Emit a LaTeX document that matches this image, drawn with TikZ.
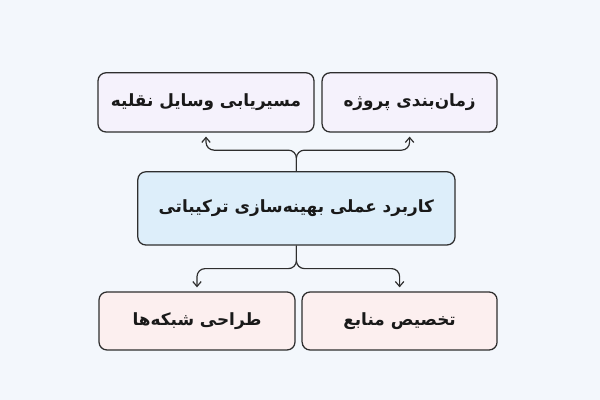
\documentclass[tikz,border=0pt]{standalone}
\usepackage{fontspec}
\newfontfamily\arabicfont[Script=Arabic]{DejaVu Sans}
\TeXXeTstate=1
\usetikzlibrary{arrows.meta,positioning}
\definecolor{bgcol}{HTML}{F3F7FC}
\definecolor{topfill}{HTML}{F5F2FC}
\definecolor{midfill}{HTML}{DDEEFA}
\definecolor{botfill}{HTML}{FCEFEF}
\definecolor{edgecol}{HTML}{2E2E2E}

\begin{document}
\begin{tikzpicture}[
    box/.style={rectangle, draw=edgecol, line width=0.9pt, rounded corners=0.2cm, inner sep=0pt, minimum height=1.48cm, align=center, text=black!90, font=\arabicfont\bfseries\fontsize{12}{15}\selectfont},
    topbox/.style={box, fill=topfill},
    midbox/.style={box, fill=midfill, minimum height=1.83cm},
    botbox/.style={box, fill=botfill, minimum height=1.45cm},
    arrow/.style={-{Straight Barb[length=3.5pt,width=6pt]}, draw=edgecol, line width=0.85pt, rounded corners=0.2cm, shorten >=0.1cm}
]
    % sfondo
    \fill[bgcol] (0,0) rectangle (15,10);

    % nodo centrale
    \node[midbox, minimum width=7.93cm] (core) at (7.41,4.79) {\beginR کاربرد عملی بهینه‌سازی ترکیباتی\endR};

    % applicazioni sopra
    \node[topbox, minimum width=5.4cm] (routing) at (5.15,7.44) {\beginR مسیریابی وسایل نقلیه\endR};
    \node[topbox, minimum width=4.375cm] (schedule) at (10.24,7.44) {\beginR زمان‌بندی پروژه\endR};

    % applicazioni sotto
    \node[botbox, minimum width=4.9cm] (network) at (4.925,1.975) {\beginR طراحی شبکه‌ها\endR};
    \node[botbox, minimum width=4.875cm] (alloc) at (9.99,1.975) {\beginR تخصیص منابع\endR};

    % punti di diramazione
    \coordinate (upsplit) at ([yshift=0.525cm]core.north);
    \coordinate (downsplit) at ([yshift=-0.575cm]core.south);

    % frecce
    \draw[arrow] (core.north) -- (upsplit) -| (routing.south);
    \draw[arrow] (core.north) -- (upsplit) -| (schedule.south);
    \draw[arrow] (core.south) -- (downsplit) -| (network.north);
    \draw[arrow] (core.south) -- (downsplit) -| (alloc.north);
\end{tikzpicture}
\end{document}
